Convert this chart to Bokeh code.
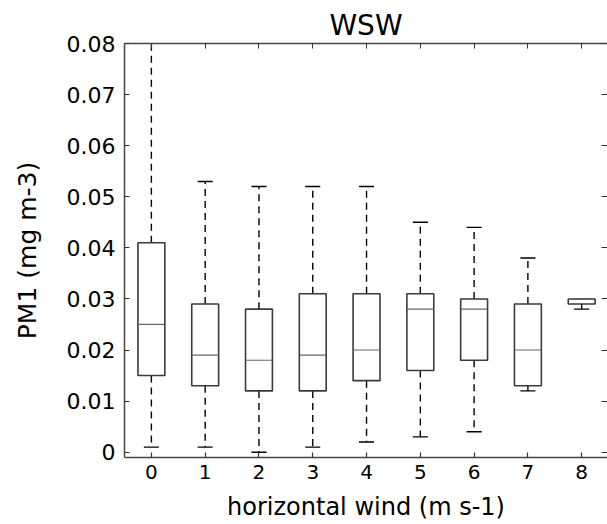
from bokeh.plotting import figure
from bokeh.models import Range1d, FixedTicker, LinearAxis, CustomJSTickFormatter, ColumnDataSource
from bokeh.embed import file_html
from bokeh.resources import INLINE

# ---- data ----
wind_speed = [0, 1, 2, 3, 4, 5, 6, 7, 8]
whisker_hi = [0.090, 0.053, 0.052, 0.052, 0.052, 0.045, 0.044, 0.038, 0.030]
q3 = [0.041, 0.029, 0.028, 0.031, 0.031, 0.031, 0.030, 0.029, 0.030]
median = [0.025, 0.019, 0.018, 0.019, 0.020, 0.028, 0.028, 0.020, 0.030]
q1 = [0.015, 0.013, 0.012, 0.012, 0.014, 0.016, 0.018, 0.013, 0.029]
whisker_lo = [0.001, 0.001, 0.000, 0.001, 0.002, 0.003, 0.004, 0.012, 0.028]

y_ticks = [0, 0.01, 0.02, 0.03, 0.04, 0.05, 0.06, 0.07, 0.08]
y_tick_labels = ["0", "0.01", "0.02", "0.03", "0.04", "0.05", "0.06", "0.07", "0.08"]
title_text = "WSW"
x_label = "horizontal wind (m s-1)"
y_label = "PM1 (mg m-3)"

BOX_W = 0.5
CAP_HALF = 0.14
FONT = "DejaVu Sans"

src = ColumnDataSource(dict(
    x=wind_speed, hi=whisker_hi, q3=q3, med=median, q1=q1, lo=whisker_lo,
    xl=[v - BOX_W / 2 for v in wind_speed], xr=[v + BOX_W / 2 for v in wind_speed],
    cl=[v - CAP_HALF for v in wind_speed], cr=[v + CAP_HALF for v in wind_speed],
))

p = figure(width=607, height=524, output_backend="svg", toolbar_location=None,
           x_range=Range1d(-0.5, 8.48), y_range=Range1d(-0.00104, 0.08),
           title=title_text)
p.min_border_left = 124
p.min_border_right = 0
p.min_border_top = 43
p.min_border_bottom = 67
p.outline_line_color = None
p.grid.visible = False
p.background_fill_color = "white"
p.border_fill_color = "white"

p.title.align = "center"
p.title.text_font = FONT
p.title.text_font_size = "28px"
p.title.text_font_style = "normal"
p.title.text_color = "black"
p.title.standoff = 4

line_col = "#3a3a3a"

# whiskers
p.segment(x0="x", y0="q3", x1="x", y1="hi", source=src, line_color="black",
          line_width=1.4, line_dash="7 5")
p.segment(x0="x", y0="q1", x1="x", y1="lo", source=src, line_color="black",
          line_width=1.4, line_dash="7 5")
# caps
p.segment(x0="cl", y0="hi", x1="cr", y1="hi", source=src, line_color="black", line_width=1.4)
p.segment(x0="cl", y0="lo", x1="cr", y1="lo", source=src, line_color="black", line_width=1.4)
# boxes
p.quad(left="xl", right="xr", bottom="q1", top="q3", source=src,
       fill_color="white", line_color=line_col, line_width=1.6)
# medians
p.segment(x0="xl", y0="med", x1="xr", y1="med", source=src, line_color="#666666", line_width=1.2)

# axes
xa = p.xaxis[0]
xa.ticker = FixedTicker(ticks=wind_speed)
xa.axis_label = x_label
ya = p.yaxis[0]
ya.ticker = FixedTicker(ticks=y_ticks)
ya.major_label_overrides = {t: l for t, l in zip(y_ticks, y_tick_labels)}
ya.axis_label = y_label

for ax in (xa, ya):
    ax.axis_line_color = "#444444"
    ax.axis_line_width = 1.5
    ax.major_tick_in = 5
    ax.major_tick_out = 0
    ax.minor_tick_line_color = None
    ax.major_tick_line_color = "#333333"
    ax.major_tick_line_width = 1.2
    ax.major_label_text_font = FONT
    ax.major_label_text_color = "black"
    ax.axis_label_text_font = FONT
    ax.axis_label_text_font_style = "normal"
    ax.axis_label_text_color = "black"

xa.major_label_text_font_size = "20px"
xa.major_label_standoff = 7
xa.axis_label_text_font_size = "24px"
xa.axis_label_standoff = 11

ya.major_label_text_font_size = "22px"
ya.major_label_standoff = 9
ya.axis_label_text_font_size = "25px"
ya.axis_label_standoff = 22

blank = CustomJSTickFormatter(code="return ''")
top_ax = LinearAxis(ticker=FixedTicker(ticks=wind_speed), formatter=blank,
                    major_tick_in=5, major_tick_out=0, minor_tick_line_color=None,
                    axis_line_color="#444444", axis_line_width=1.5,
                    major_tick_line_color="#333333", major_label_standoff=0)
p.add_layout(top_ax, "above")
right_ax = LinearAxis(ticker=FixedTicker(ticks=y_ticks), formatter=blank,
                      major_tick_in=6, major_tick_out=0, minor_tick_line_color=None,
                      axis_line_color=None, major_tick_line_color="#333333",
                      major_label_standoff=0)
p.add_layout(right_ax, "right")

open("out.html", "w").write(file_html(p, INLINE))
